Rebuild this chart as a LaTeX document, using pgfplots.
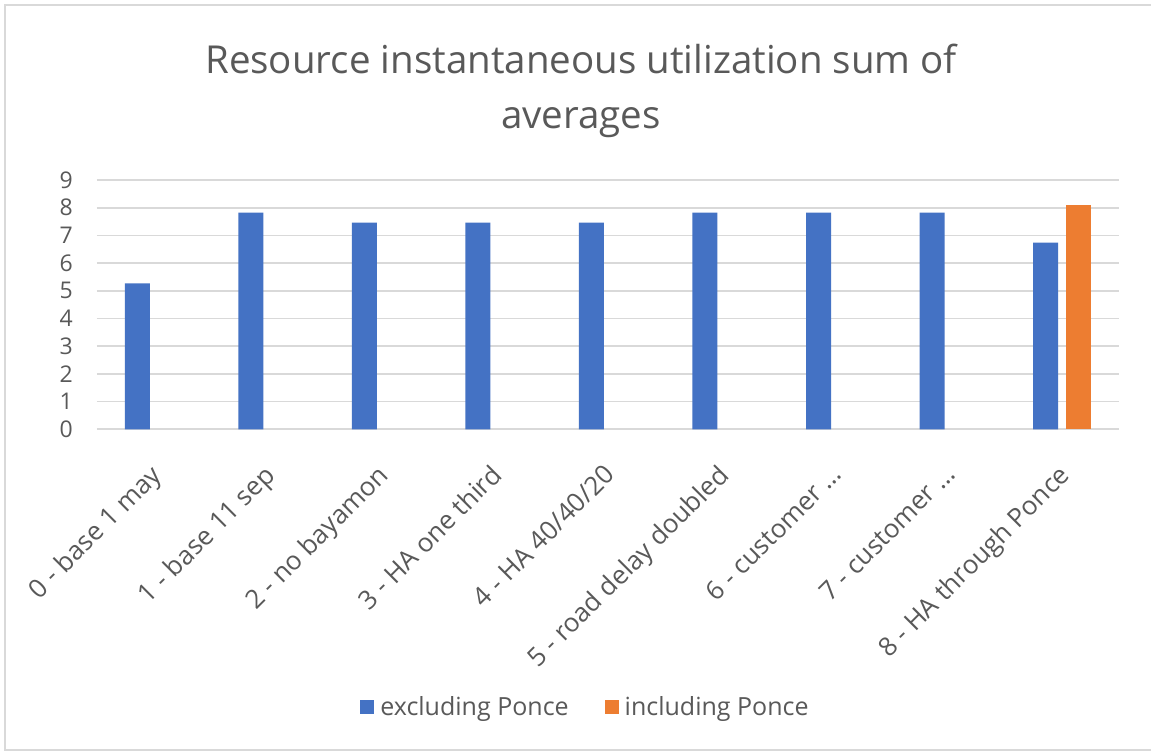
\documentclass[border=0pt]{standalone}
\usepackage{pgfplots}
\pgfplotsset{compat=1.18}
\usepackage{fontspec}
\setmainfont{Open Sans}
\definecolor{exblue}{HTML}{4472C4}
\definecolor{inorange}{HTML}{ED7D31}
\definecolor{txtgray}{HTML}{595959}
\definecolor{gridgray}{HTML}{D9D9D9}
\begin{document}
\begin{tikzpicture}[x=1pt,y=1pt]
\useasboundingbox (0,0) rectangle (1151,752);
\fill[white] (0,0) rectangle (1151,752);
\draw[gridgray, line width=2pt] (1153,2) -- (5,2) -- (5,747) -- (1153,747);
\node[text=txtgray, align=center, font=\fontsize{38.5}{55}\selectfont] at (581,661) {Resource instantaneous utilization sum of\\averages};
\begin{axis}[
  at={(97pt,322.7pt)}, anchor=south west,
  scale only axis, width=1022pt, height=249.3pt,
  xmin=-0.5, xmax=8.5, ymin=0, ymax=9,
  ytick={0,1,2,3,4,5,6,7,8,9},
  xtick={0,1,2,3,4,5,6,7,8},
  xticklabels={0 - base 1 may, 1 - base 11 sep, 2 - no bayamon, 3 - HA one third, 4 - HA 40/40/20, 5 - road delay doubled, 6 - customer …, 7 - customer …, 8 - HA through Ponce},
  axis line style={draw=none},
  major tick style={draw=none},
  ymajorgrids, major grid style={gridgray, line width=1.6pt},
  ybar, bar width=25pt,
  /pgf/number format/assume math mode=true,
  yticklabel style={anchor=east, inner sep=0pt, xshift=-24pt, text=txtgray, font=\fontsize{23}{23}\selectfont},
  xticklabel style={xshift=-5pt, yshift=-29pt, rotate=45, anchor=north east, inner sep=0pt, text=txtgray, font=\fontsize{26}{26}\selectfont},
  legend columns=2,
  legend style={at={(0.478,-1.114)}, anchor=center, draw=none, fill=none, text=txtgray, font=\fontsize{25}{25}\selectfont,
    /tikz/every odd column/.append style={column sep=4pt},
    /tikz/every even column/.append style={column sep=34pt}},
  legend image code/.code={\fill[#1] (0pt,-7pt) rectangle (14pt,7pt);},
]
\addplot[fill=exblue, draw=none, bar shift=-16.5pt] coordinates {(0,5.27) (1,7.82) (2,7.46) (3,7.46) (4,7.46) (5,7.82) (6,7.82) (7,7.82) (8,6.74)};
\addplot[fill=inorange, draw=none, bar shift=16.5pt] coordinates {(8,8.11)};
\legend{excluding Ponce, including Ponce}
\end{axis}
\end{tikzpicture}
\end{document}
